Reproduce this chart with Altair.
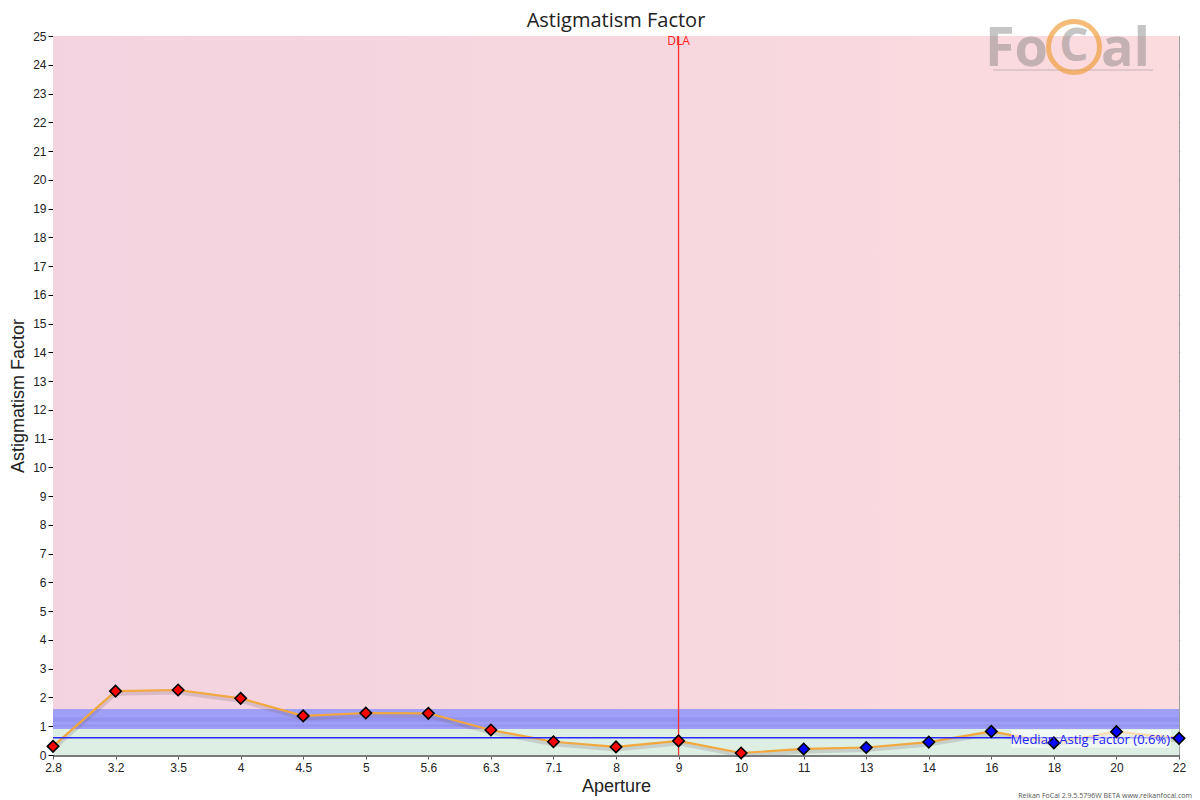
import altair as alt
import pandas as pd

apertures = ["2.8", "3.2", "3.5", "4", "4.5", "5", "5.6", "6.3", "7.1", "8", "9",
             "10", "11", "13", "14", "16", "18", "20", "22"]
astig = [0.30, 2.22, 2.26, 1.97, 1.36, 1.46, 1.45, 0.87, 0.46, 0.28, 0.49,
         0.07, 0.21, 0.26, 0.45, 0.82, 0.42, 0.81, 0.58]
marker_group = ["red"] * 12 + ["blue"] * 7

band_lo = [0, 0.9, 1.6]
band_hi = [0.9, 1.6, 25]
band_name = ["good", "mid", "bad"]

stripe_lo = [0.98, 1.16]
stripe_hi = [1.06, 1.30]

median_value = 0.6
median_label = "Median Astig Factor (0.6%)"
dla_aperture = "9"
title_text = "Astigmatism Factor"
footer_text = "Reikan FoCal 2.9.5.5796W BETA  www.reikanfocal.com"

W, H = 1126, 719

df = pd.DataFrame({"aperture": apertures, "astig": astig, "group": marker_group})
bands = pd.DataFrame({"lo": band_lo, "hi": band_hi, "name": band_name})
stripes = pd.DataFrame({"lo": stripe_lo, "hi": stripe_hi})

xscale = alt.Scale(type="point", padding=0, domain=apertures)
yscale = alt.Scale(domain=[0, 25], nice=False, zero=True)

x_axis = alt.Axis(title="Aperture", labelAngle=0, grid=True,
                  gridColor="#000000", gridOpacity=0.28,
                  domainColor="#7b7b7b", domainWidth=3,
                  tickColor="#555555", tickSize=4,
                  labelFontSize=12, labelColor="#222222",
                  titleFontSize=18, titleFontWeight="normal",
                  titleColor="#222222", labelPadding=3, titlePadding=4)
y_axis = alt.Axis(title="Astigmatism Factor", values=list(range(0, 26)),
                  grid=True, gridColor="#000000", gridOpacity=0.28,
                  domainColor="#000000", tickColor="#000000", tickSize=5,
                  labelFontSize=12, labelColor="#222222", labelOverlap=False,
                  titleFontSize=18, titleFontWeight="normal",
                  titleColor="#222222", titlePadding=5)


def X(field):
    return alt.X(field, scale=xscale, sort=apertures, axis=x_axis)


def Y(field):
    return alt.Y(field, scale=yscale, axis=y_axis)


pink = alt.LinearGradient(
    gradient="linear",
    stops=[alt.GradientStop(color="#f2d3df", offset=0),
           alt.GradientStop(color="#fcdbdf", offset=1)],
    x1=0, x2=1, y1=0, y2=0,
)

bg_bad = alt.Chart(bands[bands.name == "bad"]).mark_rect(color=pink).encode(
    x=alt.value(0), x2=alt.value(W), y=Y("lo:Q"), y2="hi:Q")
bg_mid = alt.Chart(bands[bands.name == "mid"]).mark_rect(color="#9f9ff7").encode(
    x=alt.value(0), x2=alt.value(W), y=Y("lo:Q"), y2="hi:Q")
bg_good = alt.Chart(bands[bands.name == "good"]).mark_rect(color="#dcefe2").encode(
    x=alt.value(0), x2=alt.value(W), y=Y("lo:Q"), y2="hi:Q")
bg_stripes = alt.Chart(stripes).mark_rect(color="#9494f0").encode(
    x=alt.value(0), x2=alt.value(W), y=Y("lo:Q"), y2="hi:Q")

base = alt.Chart(df).encode(x=X("aperture:O"), y=Y("astig:Q"))

shadow = base.mark_line(color="#7a6070", strokeWidth=5, opacity=0.22, yOffset=2)
line = base.mark_line(color="#f2a83e", strokeWidth=2.2)

median_rule = alt.Chart(pd.DataFrame({"m": [median_value]})).mark_rule(
    color="#2a2aff", strokeWidth=1.5).encode(
    y=Y("m:Q"), x=alt.value(0), x2=alt.value(W))

dla = alt.Chart(pd.DataFrame({"a": [dla_aperture]})).mark_rule(
    color="#ff3030", strokeWidth=1.3).encode(
    x=X("a:O"), y=alt.value(0), y2=alt.value(H))
dla_text = alt.Chart(pd.DataFrame({"a": [dla_aperture], "t": ["DLA"]})).mark_text(
    color="#ff2020", fontSize=12, baseline="top", dy=0, font="Open Sans").encode(
    x=X("a:O"), y=alt.value(0), text="t:N")

points = base.mark_point(shape="diamond", filled=True, size=130, stroke="#000000",
                         strokeWidth=1.6, opacity=1).encode(
    fill=alt.Fill("group:N", scale=alt.Scale(domain=["red", "blue"],
                                              range=["#ff0000", "#0000ff"]),
                  legend=None))

label_bg = alt.Chart(pd.DataFrame({"a": ["16"], "b": ["22"], "m": [median_value]})).mark_rect(
    color="#ffffff", opacity=0.6, xOffset=20, x2Offset=-8, yOffset=-8, y2Offset=10).encode(
    x=X("a:O"), x2="b:O", y=Y("m:Q"), y2="m:Q")
label = alt.Chart(pd.DataFrame({"b": ["22"], "m": [median_value], "t": [median_label]})).mark_text(
    color="#2020ff", fontSize=13, align="right", baseline="middle", dx=-9, dy=2,
    font="Open Sans").encode(x=X("b:O"), y=Y("m:Q"), text="t:N")

logo_parts = pd.DataFrame({"t": ["Fo", "C", "al"]})
logo_ring = alt.Chart(pd.DataFrame({"k": [0]})).mark_point(
    shape="circle", size=2600, stroke="#f0a040", strokeWidth=5, opacity=0.7,
    filled=False).encode(x=alt.value(1021), y=alt.value(11))
logo_fo = alt.Chart(logo_parts.iloc[[0]]).mark_text(
    fontSize=54, font="Open Sans", fontWeight="bold", color="#808080", opacity=0.45,
    align="right", baseline="alphabetic").encode(x=alt.value(995), y=alt.value(30), text="t:N")
logo_c = alt.Chart(logo_parts.iloc[[1]]).mark_text(
    fontSize=46, font="Open Sans", fontWeight="bold", color="#808080", opacity=0.45,
    align="center", baseline="middle").encode(x=alt.value(1021), y=alt.value(11), text="t:N")
logo_al = alt.Chart(logo_parts.iloc[[2]]).mark_text(
    fontSize=54, font="Open Sans", fontWeight="bold", color="#808080", opacity=0.45,
    align="left", baseline="alphabetic").encode(x=alt.value(1048), y=alt.value(30), text="t:N")
logo_rule = alt.Chart(pd.DataFrame({"k": [0]})).mark_rule(
    color="#808080", opacity=0.45, strokeWidth=1).encode(
    x=alt.value(940), x2=alt.value(1100), y=alt.value(34))

title = alt.Chart(pd.DataFrame({"t": [title_text]})).mark_text(
    fontSize=20, font="Open Sans", color="#222222", align="center",
    baseline="middle").encode(x=alt.value(W / 2), y=alt.value(-15), text="t:N")

footer = alt.Chart(pd.DataFrame({"t": [footer_text]})).mark_text(
    fontSize=7, color="#555555", align="right", baseline="middle", font="Open Sans").encode(
    x=alt.value(1139), y=alt.value(760), text="t:N")

chart = alt.layer(
    bg_bad, bg_mid, bg_stripes, bg_good, shadow, line, median_rule, dla, dla_text,
    label_bg, points, label, logo_rule, logo_ring, logo_fo, logo_c, logo_al, title, footer
).properties(
    width=W, height=H,
    autosize=alt.AutoSizeParams(type="none"),
    padding={"left": 45, "top": 28, "right": 13, "bottom": 45},
).configure_view(stroke="#000000", strokeWidth=1.5).configure_axis(
    labelFont="Open Sans", titleFont="Open Sans"
).configure(background="#ffffff")

chart.save("out.html", embed_options={"renderer": "svg", "actions": False})
